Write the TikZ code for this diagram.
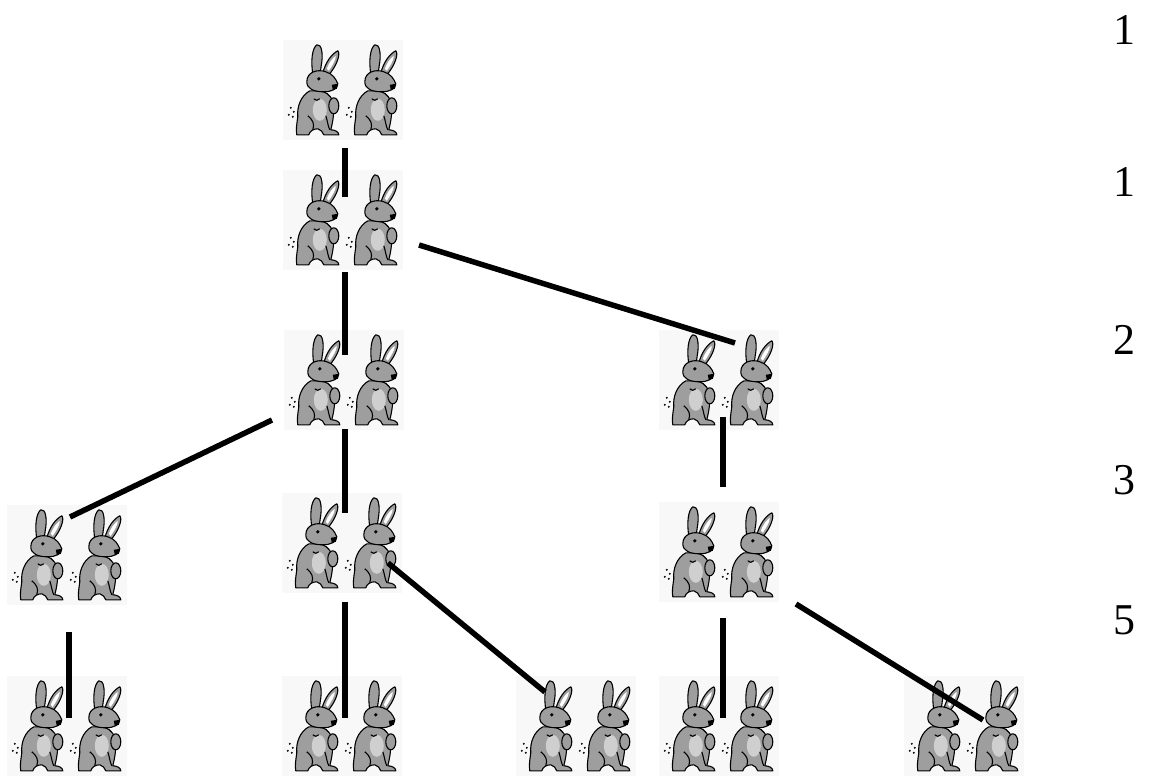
\documentclass[tikz,border=0pt]{standalone}
\usepackage{fontspec}
\setmainfont{Liberation Serif}
\usetikzlibrary{calc}
\definecolor{rabfill}{HTML}{9E9E9E}
\definecolor{rablight}{HTML}{CFCFCF}
\definecolor{speck}{HTML}{F8F8F8}
\tikzset{
  pairbox/.style={rectangle, inner sep=0pt, minimum width=114pt, minimum height=96pt},
  conn/.style={line width=5.5pt, line cap=butt, draw=black},
  fib/.style={font=\fontsize{44}{44}\selectfont, inner sep=0pt},
  rabbit/.pic={
    \begin{scope}[line width=1.1pt, draw=black, line join=round]
      \fill[speck] (-5,-4) rectangle (57,96);
      % right ear
      \filldraw[fill=rabfill] (35,29) .. controls (38,18) and (44,10) .. (50,7) .. controls (53,10) and (49,22) .. (41,31) -- cycle;
      \fill[white] (39,25) .. controls (41,19) and (45,14) .. (48,12) .. controls (48,16) and (45,21) .. (41,27) -- cycle;
      % left ear
      \filldraw[fill=rabfill] (25,30) .. controls (23,18) and (24,5) .. (29,1) .. controls (34,0) and (35,10) .. (34,18) .. controls (33,24) and (33,27) .. (32,30) -- cycle;
      % body
      \filldraw[fill=rabfill] (22,47) .. controls (13,52) and (9,63) .. (10,73) .. controls (9,80) and (8,86) .. (9,91) -- (21,91) .. controls (22,87) and (26,85) .. (30,85) .. controls (33,86) and (35,88) .. (36,91) -- (51,91) .. controls (51,88) and (47,86) .. (43,86) .. controls (45,78) and (47,68) .. (45,58) .. controls (43,51) and (37,47) .. (30,47) -- cycle;
      % belly
      \fill[rablight] (32,66) ellipse [x radius=7, y radius=11];
      % arm
      \filldraw[fill=rabfill] (46,62) ellipse [x radius=5, y radius=8];
      % head
      \filldraw[fill=rabfill] (19,38) .. controls (19,28) and (30,25) .. (38,28) .. controls (45,30) and (48,35) .. (50,40) .. controls (50,45) and (44,48) .. (36,48) .. controls (26,48) and (19,45) .. (19,38) -- cycle;
      % eye and nose
      \fill (31,35) circle [radius=1.8];
      \fill (44,41) -- (50,40) -- (49,45) -- (45,46) -- cycle;
      % leg strokes
      \draw (20,72) .. controls (25,76) and (27,80) .. (25,86);
      \draw (38,72) .. controls (40,78) and (40,82) .. (42,86);
      \draw (26,55) .. controls (28,57) and (30,57) .. (32,55);
      % tail dots
      \fill (3,64) circle [radius=1.1];
      \fill (6,68) circle [radius=1.1];
      \fill (1,71) circle [radius=1.1];
      \fill (5,73) circle [radius=1.1];
    \end{scope}
  },
  rabbitpair/.pic={
    \pic at (0,0) {rabbit};
    \pic at (58,0) {rabbit};
  }
}
\begin{document}
\begin{tikzpicture}[x=1pt,y=-1pt]
  \fill[white] (0,0) rectangle (1156,776);
  \useasboundingbox (0,0) rectangle (1156,776);

  % rabbit pair nodes
  \node[pairbox] (r0)  at (344,90)  {};
  \node[pairbox] (r1)  at (344,220) {};
  \node[pairbox] (r2a) at (345,380) {};
  \node[pairbox] (r2b) at (720,380) {};
  \node[pairbox] (r3a) at (68,555)  {};
  \node[pairbox] (r3b) at (343,543) {};
  \node[pairbox] (r3c) at (720,552) {};
  \node[pairbox] (r4a) at (68,726)  {};
  \node[pairbox] (r4b) at (343,726) {};
  \node[pairbox] (r4c) at (577,726) {};
  \node[pairbox] (r4d) at (720,726) {};
  \node[pairbox] (r4e) at (965,726) {};

  \foreach \n in {r0,r1,r2a,r2b,r3a,r3b,r3c,r4a,r4b,r4c,r4d,r4e}
    \pic at ($(\n.north west)+(1,2)$) {rabbitpair};

  % connectors
  \draw[conn] ($(r0)+(1,58)$)  -- ($(r1)+(1,-23)$);
  \draw[conn] ($(r1)+(1,52)$)  -- ($(r2a)+(0,-25)$);
  \draw[conn] ($(r1)+(75,25)$) -- ($(r2b)+(15,-37)$);
  \draw[conn] ($(r2a)+(-73,40)$) -- ($(r3a)+(2,-38)$);
  \draw[conn] ($(r2a)+(0,49)$) -- ($(r3b)+(2,-30)$);
  \draw[conn] ($(r2b)+(3,37)$) -- ($(r3c)+(3,-65)$);
  \draw[conn] ($(r3a)+(1,77)$) -- ($(r4a)+(1,-8)$);
  \draw[conn] ($(r3b)+(2,59)$) -- ($(r4b)+(2,-8)$);
  \draw[conn] ($(r3b)+(45,20)$) -- ($(r4c)+(-32,-34)$);
  \draw[conn] ($(r3c)+(3,66)$) -- ($(r4d)+(3,-8)$);
  \draw[conn] ($(r3c)+(76,52)$) -- ($(r4e)+(18,-6)$);

  % Fibonacci numbers
  \node[fib] (n1) at (1124,30)  {1};
  \node[fib] (n2) at (1124,182) {1};
  \node[fib] (n3) at (1124,340) {2};
  \node[fib] (n4) at (1124,480) {3};
  \node[fib] (n5) at (1124,620) {5};
\end{tikzpicture}
\end{document}
